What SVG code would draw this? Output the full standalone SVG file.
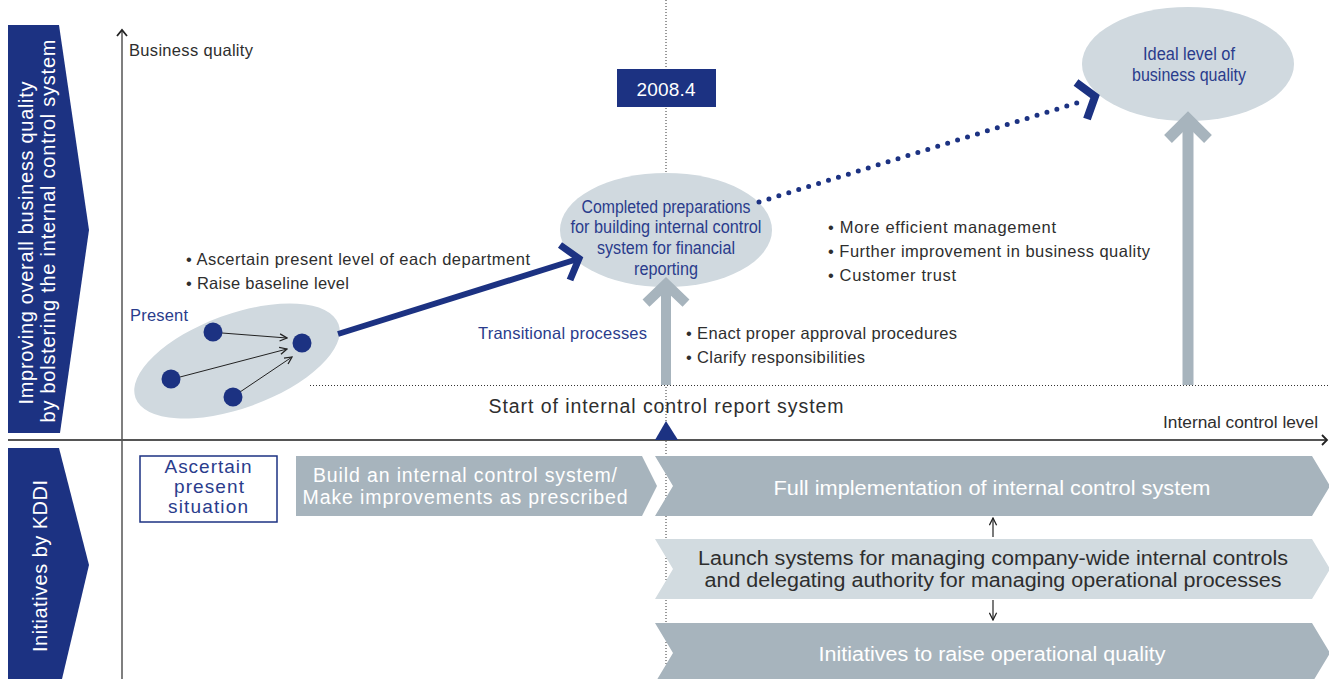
<svg xmlns="http://www.w3.org/2000/svg" width="1329" height="679" viewBox="0 0 1329 679">
<style>
text{font-family:"Liberation Sans",Arial,sans-serif}
.dk{fill:#2e2e2e}
.bl{fill:#2a3c8c}
.wh{fill:#ffffff}
.navy{fill:#1c3282}
.ell{fill:#d0d9df}
.chev{fill:#a7b4bd}
.chevL{fill:#d2dbe0}
.dot{stroke:#333;stroke-width:1;stroke-dasharray:1 2;fill:none}
</style>
<defs>
<marker id="thin" viewBox="0 0 10 10" refX="9" refY="5" markerWidth="9" markerHeight="9" markerUnits="userSpaceOnUse" orient="auto">
<path d="M1,1 L9,5 L1,9" fill="none" stroke="#222" stroke-width="1.4"/>
</marker>
</defs>
<rect width="1329" height="679" fill="#ffffff"/>

<g id="banner-quality">
<polygon class="navy" points="8,25 59,25 89,230 60,433 8,433"/>
<text class="wh" font-size="20" text-anchor="middle" transform="translate(33,243) rotate(-90)" textLength="323">Improving overall business quality</text>
<text class="wh" font-size="20" text-anchor="middle" transform="translate(55,231) rotate(-90)" textLength="383">by bolstering the internal control system</text>
</g>
<g id="banner-initiatives">
<polygon class="navy" points="8,448 59,448 89,565 62,679 8,679"/>
<text class="wh" font-size="20" text-anchor="middle" transform="translate(47,566) rotate(-90)" textLength="172">Initiatives by KDDI</text>
</g>

<g id="axes">
<line x1="122" y1="30" x2="122" y2="679" stroke="#555" stroke-width="1.5"/>
<polyline points="117,36 122,30 127,36" fill="none" stroke="#222" stroke-width="1.8"/>
<line x1="8" y1="440" x2="1327" y2="440" stroke="#555" stroke-width="2"/>
<polyline points="1322,435 1327,440 1322,445" fill="none" stroke="#222" stroke-width="1.8"/>
<line class="dot" x1="666" y1="0" x2="666" y2="679"/>
<line class="dot" x1="310" y1="385.5" x2="1329" y2="385.5"/>
<text class="dk" x="129" y="56" font-size="16.5" textLength="124">Business quality</text>
<text class="dk" x="1318" y="428" font-size="16" text-anchor="end" textLength="155" lengthAdjust="spacingAndGlyphs">Internal control level</text>
<polygon class="navy" points="655,440 666,421 678,440"/>
<text class="dk" x="666" y="413" font-size="19.5" text-anchor="middle" textLength="355">Start of internal control report system</text>
</g>

<g id="node-2008">
<rect class="navy" x="617" y="69" width="99" height="38"/>
<text class="wh" x="666" y="96" font-size="19" text-anchor="middle" textLength="59">2008.4</text>
</g>

<g id="node-present">
<ellipse class="ell" cx="237" cy="361" rx="108" ry="47" transform="rotate(-20 237 361)"/>
<text class="bl" x="130" y="321" font-size="16.5" textLength="58">Present</text>
<line x1="222" y1="333" x2="287" y2="338" stroke="#222" stroke-width="1" marker-end="url(#thin)"/>
<line x1="180" y1="377" x2="287" y2="349" stroke="#222" stroke-width="1" marker-end="url(#thin)"/>
<line x1="240" y1="392" x2="292" y2="357" stroke="#222" stroke-width="1" marker-end="url(#thin)"/>
<circle class="navy" cx="213" cy="332" r="9.5"/>
<circle class="navy" cx="302" cy="343" r="9.5"/>
<circle class="navy" cx="171" cy="379" r="9.5"/>
<circle class="navy" cx="233" cy="397" r="9.5"/>
</g>

<g id="node-completed">
<ellipse class="ell" cx="666" cy="230" rx="106" ry="57"/>
<text class="bl" x="666" y="213" font-size="17.5" text-anchor="middle" textLength="169" lengthAdjust="spacingAndGlyphs">Completed preparations</text>
<text class="bl" x="666" y="233" font-size="17.5" text-anchor="middle" textLength="191" lengthAdjust="spacingAndGlyphs">for building internal control</text>
<text class="bl" x="666" y="254" font-size="17.5" text-anchor="middle" textLength="138" lengthAdjust="spacingAndGlyphs">system for financial</text>
<text class="bl" x="666" y="275" font-size="17.5" text-anchor="middle" textLength="64" lengthAdjust="spacingAndGlyphs">reporting</text>
</g>

<g id="node-ideal">
<ellipse class="ell" cx="1188" cy="64" rx="106" ry="57"/>
<text class="bl" x="1189" y="60" font-size="17.5" text-anchor="middle" textLength="92" lengthAdjust="spacingAndGlyphs">Ideal level of</text>
<text class="bl" x="1189" y="81" font-size="17.5" text-anchor="middle" textLength="114" lengthAdjust="spacingAndGlyphs">business quality</text>
</g>

<g id="notes">
<text class="dk" x="186" y="265" font-size="16.5" textLength="344">• Ascertain present level of each department</text>
<text class="dk" x="186" y="289" font-size="16.5" textLength="163">• Raise baseline level</text>
<text class="bl" x="478" y="339" font-size="16.5" textLength="169">Transitional processes</text>
<text class="dk" x="686" y="339" font-size="16.5" textLength="271">• Enact proper approval procedures</text>
<text class="dk" x="686" y="363" font-size="16.5" textLength="179">• Clarify responsibilities</text>
<text class="dk" x="828" y="233" font-size="16.5" textLength="228">• More efficient management</text>
<text class="dk" x="828" y="257" font-size="16.5" textLength="322">• Further improvement in business quality</text>
<text class="dk" x="828" y="281" font-size="16.5" textLength="128">• Customer trust</text>
</g>

<g id="connectors">
<line x1="338" y1="334" x2="576" y2="259.5" stroke="#1c3282" stroke-width="6"/>
<polyline points="560,245 579,258.5 570,280" fill="none" stroke="#1c3282" stroke-width="7" stroke-linejoin="miter"/>
<line x1="759" y1="202" x2="1083" y2="101" stroke="#1c3282" stroke-width="5" stroke-linecap="round" stroke-dasharray="0 10.4"/>
<polyline points="1076,82.5 1095,96.5 1087,119" fill="none" stroke="#1c3282" stroke-width="8" stroke-linejoin="miter"/>
<rect class="chev" x="661" y="290" width="10" height="95"/>
<polyline points="646,303 666,284 686,303" fill="none" stroke="#a7b4bd" stroke-width="10" stroke-linejoin="miter"/>
<rect class="chev" x="1182.5" y="124" width="11" height="261"/>
<polyline points="1168,139 1188,119 1208,139" fill="none" stroke="#a7b4bd" stroke-width="11" stroke-linejoin="miter"/>
<line x1="993" y1="537" x2="993" y2="518" stroke="#222" stroke-width="1.2" marker-end="url(#thin)"/>
<line x1="993" y1="600" x2="993" y2="620" stroke="#222" stroke-width="1.2" marker-end="url(#thin)"/>
</g>

<g id="node-ascertain">
<rect x="140" y="456" width="137" height="66" fill="#fff" stroke="#1c3282" stroke-width="1.5"/>
<text class="bl" x="208" y="473" font-size="19" text-anchor="middle" textLength="87">Ascertain</text>
<text class="bl" x="209" y="493" font-size="19" text-anchor="middle" textLength="70">present</text>
<text class="bl" x="208" y="513" font-size="19" text-anchor="middle" textLength="80">situation</text>
</g>

<g id="node-build">
<polygon class="chev" points="296,456 642,456 657,486 642,516 296,516"/>
<text class="wh" x="465" y="482" font-size="19.5" text-anchor="middle" textLength="304">Build an internal control system/</text>
<text class="wh" x="465" y="504" font-size="19.5" text-anchor="middle" textLength="325">Make improvements as prescribed</text>
</g>

<g id="node-full">
<polygon class="chev" points="655,456 1312,456 1330,486 1312,516 655,516 673,486"/>
<text class="wh" x="992" y="495" font-size="20.5" text-anchor="middle" textLength="437" lengthAdjust="spacingAndGlyphs">Full implementation of internal control system</text>
</g>

<g id="node-launch">
<polygon class="chevL" points="655,539 1312,539 1330,569 1312,599 655,599 673,569"/>
<text class="dk" x="993" y="565" font-size="19.5" text-anchor="middle" textLength="590" lengthAdjust="spacingAndGlyphs">Launch systems for managing company-wide internal controls</text>
<text class="dk" x="993" y="587" font-size="19.5" text-anchor="middle" textLength="577" lengthAdjust="spacingAndGlyphs">and delegating authority for managing operational processes</text>
</g>

<g id="node-raise">
<polygon class="chev" points="655,623 1312,623 1330,653 1312,683 655,683 673,653"/>
<text class="wh" x="992" y="661" font-size="19.5" text-anchor="middle" textLength="347" lengthAdjust="spacingAndGlyphs">Initiatives to raise operational quality</text>
</g>
</svg>
